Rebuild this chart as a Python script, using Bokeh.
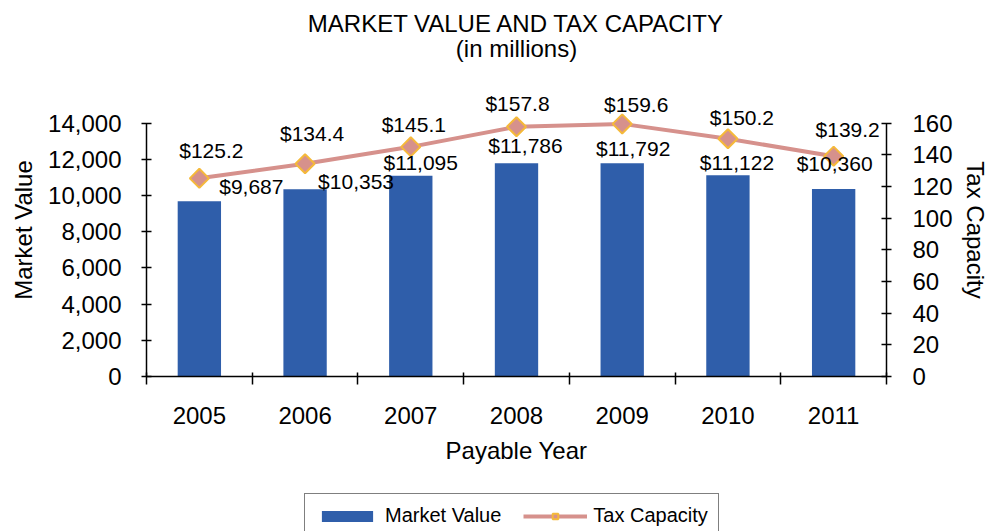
import numpy as np
from bokeh.plotting import figure
from bokeh.layouts import column
from bokeh.models import (Range1d, LinearAxis, FixedTicker, NumeralTickFormatter,
                          ColumnDataSource, Legend, LegendItem, Label)
from bokeh.core.properties import value
from bokeh.embed import file_html
from bokeh.resources import INLINE

years = ["2005", "2006", "2007", "2008", "2009", "2010", "2011"]
market_value = [9687, 10353, 11095, 11786, 11792, 11122, 10360]
tax_capacity = [125.2, 134.4, 145.1, 157.8, 159.6, 150.2, 139.2]
mv_ticks = [0, 2000, 4000, 6000, 8000, 10000, 12000, 14000]
tc_ticks = [0, 20, 40, 60, 80, 100, 120, 140, 160]
title_lines = ["MARKET VALUE AND TAX CAPACITY", "(in millions)"]

# label nudges (screen px) mimicking the original label placement
mv_dx = [52, 51, 10, 9, 11, 9, 1]
mv_dy = [-15, -8, -13, -18, -15, -13, -26]
tc_dx = [12, 7, 3, 1, 14, 14, 14]
tc_dy = [-28, -30, -22, -23, -19, -21, -27]

FONT = "Liberation Sans"
BAR = "#2F5EAA"
LINE = "#D6918C"
EDGE = "#F5B93A"

n = len(years)
xc = np.arange(n) + 0.5

# headroom above the top tick so that labels are not clipped; axes stop at top tick
head = 1.157
mv_max = mv_ticks[-1]
tc_max = tc_ticks[-1]

src = ColumnDataSource(dict(
    x=xc, mv=market_value, tc=tax_capacity,
    mv_lab=["${:,.0f}".format(v) for v in market_value],
    tc_lab=["${:.1f}".format(v) for v in tax_capacity],
    mv_dx=mv_dx, mv_dy=mv_dy, tc_dx=tc_dx, tc_dy=tc_dy,
))

BL, BR = 146, 112
TOP_H, LEG_H = 66, 41
W = 998

def strip(h):
    f = figure(width=W, height=h, output_backend="svg", toolbar_location=None,
               x_range=Range1d(0, n), y_range=Range1d(0, h),
               x_axis_type=None, y_axis_type=None,
               min_border_left=BL, min_border_right=BR, min_border_top=0,
               min_border_bottom=0)
    f.outline_line_color = None
    f.xgrid.visible = False
    f.ygrid.visible = False
    return f

# ---- title strip
top = strip(TOP_H)
for txt, cy in zip(title_lines, [23, 48]):
    top.add_layout(Label(x=n / 2, y=TOP_H - cy, text=txt, text_align="center",
                         text_baseline="middle", text_font=FONT,
                         text_font_size="24px", text_color="black"))

# ---- main chart
p = figure(width=W, height=531 - TOP_H - LEG_H, output_backend="svg",
           toolbar_location=None,
           x_range=Range1d(0, n), y_range=Range1d(0, mv_max * head),
           x_axis_type=None, y_axis_type=None,
           min_border_left=BL, min_border_right=BR, min_border_top=83 - TOP_H,
           min_border_bottom=114)
p.outline_line_color = None
p.xgrid.visible = False
p.ygrid.visible = False
p.extra_y_ranges = {"tax": Range1d(0, tc_max * head)}

def style_axis(ax):
    ax.axis_line_color = "black"
    ax.axis_line_width = 1.5
    ax.major_tick_line_color = "black"
    ax.major_tick_line_width = 1.5
    ax.minor_tick_line_color = "black"
    ax.minor_tick_line_width = 1.5
    ax.major_label_text_font = FONT
    ax.major_label_text_font_size = "24px"
    ax.major_label_text_color = "black"
    ax.axis_label_text_font = FONT
    ax.axis_label_text_font_size = "24px"
    ax.axis_label_text_font_style = "normal"
    ax.axis_label_text_color = "black"

xax = LinearAxis(ticker=FixedTicker(ticks=list(xc), minor_ticks=list(range(n + 1))),
                 major_label_overrides={float(x): y for x, y in zip(xc, years)},
                 axis_label="Payable Year")
style_axis(xax)
xax.major_tick_in = 0
xax.major_tick_out = 0
xax.minor_tick_in = 4
xax.minor_tick_out = 8
xax.major_label_standoff = 22
xax.axis_label_standoff = 10
p.add_layout(xax, "below")

lax = LinearAxis(ticker=FixedTicker(ticks=mv_ticks, minor_ticks=[]),
                 formatter=NumeralTickFormatter(format="0,0"),
                 axis_label="Market Value", bounds=(0, mv_max))
style_axis(lax)
lax.major_tick_in = 5
lax.major_tick_out = 5
lax.major_label_standoff = 20
lax.axis_label_standoff = 8
p.add_layout(lax, "left")

rax = LinearAxis(y_range_name="tax", ticker=FixedTicker(ticks=tc_ticks, minor_ticks=[]),
                 axis_label="Tax Capacity", bounds=(0, tc_max))
style_axis(rax)
rax.major_tick_in = 5
rax.major_tick_out = 5
rax.major_label_standoff = 21
rax.axis_label_standoff = 6
p.add_layout(rax, "right")

bar_style = dict(fill_color=BAR, line_color=None)
line_style = dict(line_color=LINE, line_width=4)
mark_style = dict(marker="square", angle=np.pi / 4, size=13.5, fill_color=LINE,
                  line_color=EDGE, line_width=2)

p.vbar(x="x", top="mv", bottom=0, width=0.41, source=src, **bar_style)
p.line(x="x", y="tc", source=src, y_range_name="tax", **line_style)
p.scatter(x="x", y="tc", source=src, y_range_name="tax", **mark_style)

p.text(x="x", y="mv", text="mv_lab", source=src, x_offset="mv_dx", y_offset="mv_dy",
       text_align="center", text_baseline="middle", text_font=value(FONT),
       text_font_size="21px", text_color="black")
p.text(x="x", y="tc", text="tc_lab", source=src, y_range_name="tax",
       x_offset="tc_dx", y_offset="tc_dy",
       text_align="center", text_baseline="middle", text_font=value(FONT),
       text_font_size="21px", text_color="black")

# ---- legend strip; hidden proxy renderers supply the legend glyphs
lg = strip(LEG_H)
r_bar = lg.vbar(x="x", top="mv", bottom=0, width=0.41, source=src, visible=False,
                **bar_style)
r_line = lg.line(x="x", y="tc", source=src, visible=False, **line_style)
r_mark = lg.scatter(x="x", y="tc", source=src, visible=False, **mark_style)
legend = Legend(items=[LegendItem(label="Market Value", renderers=[r_bar]),
                       LegendItem(label="Tax Capacity", renderers=[r_line, r_mark])],
                orientation="horizontal", location=(304 - BL, -7), margin=0,
                click_policy="none",
                label_text_font=FONT, label_text_font_size="20px",
                label_text_color="black",
                glyph_width=64, glyph_height=14, label_standoff=6, spacing=22,
                padding=10, border_line_color="black", border_line_width=1.5,
                background_fill_color="white")
lg.add_layout(legend, "center")

open("out.html", "w").write(file_html(column(top, p, lg, spacing=0), INLINE))
